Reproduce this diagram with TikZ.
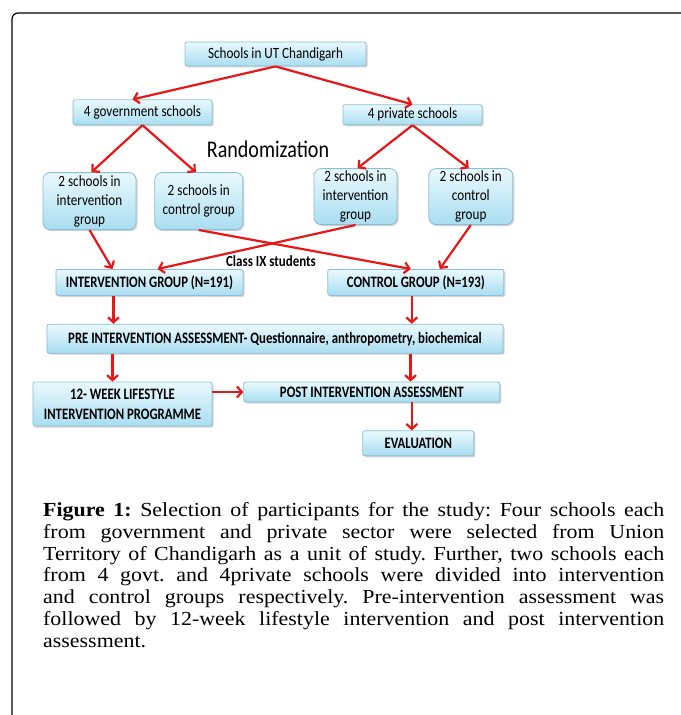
\documentclass[tikz,border=0pt]{standalone}
\usepackage{fontspec}
\setmainfont{Liberation Serif}
\newfontfamily\boxfont[FakeStretch=0.84]{Carlito}
\newfontfamily\capsfont[FakeStretch=0.8]{Carlito}
\newfontfamily\captionfont[FakeStretch=1.1]{Liberation Serif}
\usepackage{tikz}
\usetikzlibrary{arrows.meta, positioning, shadows, calc}
\definecolor{boxtop}{RGB}{234,249,253}
\definecolor{boxbottom}{RGB}{168,221,240}
\definecolor{boxline}{RGB}{138,190,212}
\definecolor{arrowred}{RGB}{232,22,22}

\begin{document}
\begin{tikzpicture}[x=1bp, y=1bp, node distance=30bp and 30bp]
\useasboundingbox (0,0) rectangle (681,-715);
% Define styles
\tikzstyle{box} = [rectangle, rounded corners=2bp, top color=boxtop, bottom color=boxbottom, draw=boxline, line width=0.8bp, drop shadow={shadow xshift=1.5bp, shadow yshift=-1.5bp, opacity=0.35}, text centered, inner sep=1bp, font=\boxfont\fontsize{15.7}{19}\selectfont]
\tikzstyle{smallbox} = [box, rounded corners=7bp, align=center]
\tikzstyle{capsbox} = [box, align=center, font=\capsfont\bfseries\fontsize{16}{20}\selectfont]
\tikzstyle{arrow} = [line width=2.2bp, draw=arrowred, -{Straight Barb[length=5bp, width=11bp]}]

% Nodes
\node (schools) [box, minimum width=181bp, minimum height=24bp] at (275.5,-54) {Schools in UT Chandigarh};
\node (gov) [box, minimum width=139bp, minimum height=25bp, below=33bp of schools, xshift=-133bp] {4 government schools};
\node (priv) [box, minimum width=139bp, minimum height=20bp, below=38bp of schools, xshift=137bp] {4 private schools};
\node (rand) [font=\boxfont\fontsize{24}{28}\selectfont] at (268,-149) {Randomization};
\node (govint) [smallbox, minimum width=93bp, minimum height=57bp, below=47bp of gov, xshift=-53bp] {2 schools in\\intervention\\group};
\node (govctl) [smallbox, minimum width=88bp, minimum height=57bp, right=18bp of govint] {2 schools in\\control group};
\node (privint) [smallbox, minimum width=83bp, minimum height=56bp, below=43bp of priv, xshift=-57bp] {2 schools in\\intervention\\group};
\node (privctl) [smallbox, minimum width=84bp, minimum height=56bp, right=31bp of privint] {2 schools in\\control\\group};
\node (classix) [font=\boxfont\bfseries\fontsize{15.5}{18}\selectfont] at (271,-261) {Class IX students};
\node (intgrp) [capsbox, minimum width=187bp, minimum height=26bp, below=39bp of govint, xshift=60bp] {INTERVENTION GROUP (N=191)};
\node (ctlgrp) [capsbox, minimum width=176bp, minimum height=26bp, right=84bp of intgrp] {CONTROL GROUP (N=193)};
\node (pre) [capsbox, minimum width=456bp, minimum height=29bp, below=28bp of intgrp, xshift=125.5bp] {PRE INTERVENTION ASSESSMENT- Questionnaire, anthropometry, biochemical};
\node (twelve) [capsbox, minimum width=179bp, minimum height=44bp, below=28bp of pre, xshift=-152.5bp] {12- WEEK LIFESTYLE\\INTERVENTION PROGRAMME};
\node (post) [capsbox, minimum width=256bp, minimum height=20bp, right=31bp of twelve.north east, anchor=north west] {POST INTERVENTION ASSESSMENT};
\node (eval) [capsbox, minimum width=111bp, minimum height=25bp, below=28bp of post, xshift=46.5bp] {EVALUATION};

% Connections
\draw [arrow] (schools.south) -- ([xshift=-10bp]gov.north);
\draw [arrow] (schools.south) -- (priv.north);
\draw [arrow] (gov.south) -- ([xshift=2bp]govint.north);
\draw [arrow] (gov.south) -- ([xshift=-3bp]govctl.north);
\draw [arrow] (priv.south) -- ([xshift=2bp]privint.north);
\draw [arrow] (priv.south) -- ([xshift=-2bp]privctl.north);
\draw [arrow] (govint.south) -- ([xshift=-37bp]intgrp.north);
\draw [arrow] (govctl.south) -- ([xshift=-5bp]ctlgrp.north);
\draw [arrow] (privint.south) -- ([xshift=8bp]intgrp.north);
\draw [arrow] (privctl.south) -- ([xshift=24bp]ctlgrp.north);
\draw [arrow] ([xshift=-36bp]intgrp.south) -- ([xshift=-36bp]intgrp.south |- pre.north);
\draw [arrow] ([xshift=-4bp]ctlgrp.south) -- ([xshift=-4bp]ctlgrp.south |- pre.north);
\draw [arrow] ([xshift=-162.5bp]pre.south) -- ([xshift=-162.5bp]pre.south |- twelve.north);
\draw [arrow] ([xshift=135.5bp]pre.south) -- ([xshift=135.5bp]pre.south |- post.north);
\draw [arrow] (twelve.east |- post.west) -- (post.west);
\draw [arrow] ([xshift=40bp]post.south) -- ([xshift=40bp]post.south |- eval.north);

% Frame and caption
\draw [line width=1.2bp, rounded corners=6bp] (12,-715) -- (12,-13) -- (681,-13);
\node (caption) [anchor=north west, text width=621bp, align=justify, inner sep=0pt, font=\captionfont\frenchspacing\fontsize{20}{22}\selectfont] at (43,-502) {\textbf{Figure 1:} Selection of participants for the study: Four schools each\linebreak from government and private sector were selected from Union\linebreak Territory of Chandigarh as a unit of study. Further, two schools each\linebreak from 4 govt. and 4private schools were divided into intervention\linebreak and control groups respectively. Pre-intervention assessment was\linebreak followed by 12-week lifestyle intervention and post intervention\linebreak assessment.};

\end{tikzpicture}
\end{document}
